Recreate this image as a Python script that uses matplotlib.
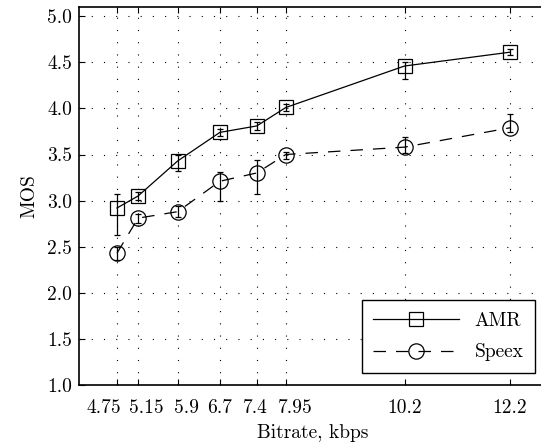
import matplotlib
matplotlib.use('Agg')
import matplotlib.pyplot as plt
import matplotlib.transforms as mtransforms
import numpy as np

# data
bitrate = [4.75, 5.15, 5.9, 6.7, 7.4, 7.95, 10.2, 12.2]
tick_labels = ['4.75', '5.15', '5.9', '6.7', '7.4', '7.95', '10.2', '12.2']

amr_mos = [2.92, 3.05, 3.43, 3.74, 3.81, 4.01, 4.46, 4.61]
amr_lo = [2.63, 3.01, 3.32, 3.70, 3.77, 3.97, 4.32, 4.58]
amr_hi = [3.07, 3.09, 3.50, 3.78, 3.85, 4.05, 4.50, 4.64]

speex_mos = [2.43, 2.81, 2.88, 3.21, 3.30, 3.50, 3.58, 3.79]
speex_lo = [2.36, 2.76, 2.82, 3.00, 3.07, 3.45, 3.52, 3.74]
speex_hi = [2.50, 2.85, 2.94, 3.31, 3.44, 3.53, 3.69, 3.94]

# horizontal nudges of the crowded tick labels (pixels)
label_shift = [-13, 8, 9, 0, -1, 9, 0, 0]

plt.rcParams['font.family'] = 'serif'
plt.rcParams['font.serif'] = ['cmr10']
plt.rcParams['axes.formatter.use_mathtext'] = True
plt.rcParams['mathtext.fontset'] = 'cm'
plt.rcParams['font.size'] = 14

W, H = 541, 446
fig = plt.figure(figsize=(W / 100, H / 100), dpi=100)
left, right, top, bottom = 79, 547, 7, 385
ax = fig.add_axes([left / W, 1 - bottom / H, (right - left) / W, (bottom - top) / H])

x = np.array(bitrate)
amr = np.array(amr_mos)
spx = np.array(speex_mos)

ax.errorbar(x, amr, yerr=[amr - np.array(amr_lo), np.array(amr_hi) - amr],
            fmt='none', ecolor='black', elinewidth=0.9, capsize=2.5, capthick=0.9, zorder=3)
ax.errorbar(x, spx, yerr=[spx - np.array(speex_lo), np.array(speex_hi) - spx],
            fmt='none', ecolor='black', elinewidth=0.9, capsize=2.5, capthick=0.9, zorder=3)

ax.plot(x, amr, color='black', lw=0.9, marker='s', markersize=9.5,
        markerfacecolor='none', markeredgecolor='black', markeredgewidth=0.9,
        label='AMR', zorder=4)
ax.plot(x, spx, color='black', lw=0.9, marker='o', markersize=11,
        markerfacecolor='none', markeredgecolor='black', markeredgewidth=0.9,
        linestyle=(0, (10, 8)), label='Speex', zorder=4)

ax.set_xlim(4.03, 12.9)
ax.set_ylim(1.0, 5.1)
ax.set_xticks(bitrate)
ax.set_xticklabels(tick_labels)
yt = np.arange(1.0, 5.01, 0.5)
ax.set_yticks(yt)
ax.set_yticklabels(['%.1f' % v for v in yt])

ax.grid(True, color='black', linestyle=(0, (1, 10)), linewidth=0.8)
ax.tick_params(direction='in', top=True, right=True, length=4, width=0.8)
ax.tick_params(axis='x', pad=10)
ax.tick_params(axis='y', pad=5)
for s in ax.spines.values():
    s.set_linewidth(1.2)

for lab, dx in zip(ax.get_xticklabels(), label_shift):
    lab.set_transform(lab.get_transform() +
                      mtransforms.ScaledTranslation(dx / 100, 0, fig.dpi_scale_trans))

ax.set_xlabel('Bitrate, kbps', labelpad=5)
ax.set_ylabel('MOS', labelpad=6)

leg = ax.legend(loc='lower right', bbox_to_anchor=(535 / W, 1 - 373 / H),
                bbox_transform=fig.transFigure, borderaxespad=0,
                fancybox=False, edgecolor='black', framealpha=1, handlelength=4.4,
                borderpad=0.6, labelspacing=0.7, handletextpad=0.8)
leg.get_frame().set_linewidth(1.0)

fig.savefig('out.png', dpi=100)
